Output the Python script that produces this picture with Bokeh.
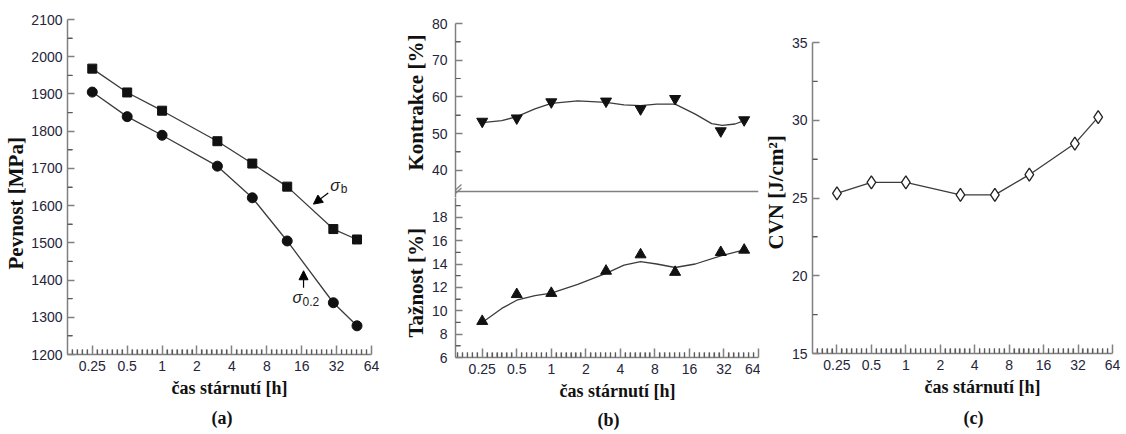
import math
from bokeh.plotting import figure
from bokeh.layouts import row, column
from bokeh.models import (FixedTicker, Arrow, NormalHead, Label, Title, Range1d, Span)
from bokeh.embed import file_html
from bokeh.resources import INLINE

# ---------------- data ----------------
t_hours = [0.25, 0.5, 1, 3, 6, 12, 30, 48]
sigma_b = [1968, 1904, 1855, 1773, 1713, 1651, 1537, 1509]
sigma_02 = [1905, 1839, 1789, 1706, 1621, 1505, 1339, 1277]
kontrakce = [53.3, 54.2, 58.6, 58.8, 56.7, 59.5, 50.7, 53.7]
taznost = [9.1, 11.4, 11.5, 13.4, 14.8, 13.3, 15.0, 15.2]
cvn = [25.3, 26.0, 26.0, 25.2, 25.2, 26.5, 28.5, 30.2]

# smoothed trend curves
kontrakce_fit_t = [0.25, 0.37, 0.5, 0.72, 1, 1.7, 3, 4.3, 6, 8.3, 12, 18, 25, 31, 40, 48]
kontrakce_fit = [53.0, 53.5, 54.6, 56.7, 58.2, 58.9, 58.5, 57.8, 57.6, 58.0, 58.0, 55.3, 52.7, 52.2, 52.6, 53.5]
taznost_fit_t = [0.25, 0.37, 0.5, 0.72, 1, 1.7, 3, 4.3, 6, 8.3, 12, 18, 30, 48]
taznost_fit = [9.0, 10.2, 10.9, 11.3, 11.5, 12.25, 13.2, 13.9, 14.2, 14.0, 13.7, 14.0, 14.7, 15.2]

x_ticks = [0.25, 0.5, 1, 2, 4, 8, 16, 32, 64]
x_tick_labels = ["0.25", "0.5", "1", "2", "4", "8", "16", "32", "64"]
ya_ticks = [1200, 1300, 1400, 1500, 1600, 1700, 1800, 1900, 2000, 2100]
ya_minor = [1250, 1350, 1450, 1550, 1650, 1750, 1850, 1950, 2050]
yb_top_ticks = [40, 50, 60, 70, 80]
yb_top_minor = [45, 55, 65, 75]
yb_bot_ticks = [6, 8, 10, 12, 14, 16, 18]
yb_bot_minor = [7, 9, 11, 13, 15, 17, 19]
yc_ticks = [15, 20, 25, 30, 35]
yc_minor = [17.5, 22.5, 27.5, 32.5]

x_minor = [2 ** (k + i / 7) for k in range(-3, 6) for i in range(1, 7)]
x_labels = {float(k): v for k, v in zip(x_ticks, x_tick_labels)}

AX = "#808080"
MINOR = "#5a5a5a"
TICK_TXT = "#25253a"
LINE = "#3c3c3c"
MK = "#111111"
TITLE = "#111111"
XLAB = "čas stárnutí [h]"


def style(p):
    p.outline_line_color = None
    p.grid.visible = False
    p.background_fill_color = "white"
    p.border_fill_color = "white"
    p.frame_align = False
    for ax in p.axis:
        ax.axis_line_color = AX
        ax.axis_line_width = 1.5
        ax.major_tick_line_color = AX
        ax.major_tick_line_width = 1.5
        ax.minor_tick_line_color = MINOR
        ax.minor_tick_line_width = 1.2
        ax.major_tick_in = 7
        ax.major_tick_out = 0
        ax.minor_tick_in = 5
        ax.minor_tick_out = 0
        ax.major_label_text_font = "Liberation Sans"
        ax.major_label_text_font_size = "14px"
        ax.major_label_text_color = TICK_TXT


def minor_marks(p, xmin, ystart, yminor):
    xs = [v for v in x_minor if v > xmin]
    # short inward ticks on the bottom axis and the left axis
    p.scatter(xs, [ystart] * len(xs), marker="dash", angle=math.pi / 2, size=10,
              line_color=MINOR, line_width=1.2)
    p.scatter([xmin] * len(yminor), yminor, marker="dash", size=10,
              line_color=MINOR, line_width=1.2)


def setup_x(p):
    ax = p.xaxis[0]
    ax.ticker = FixedTicker(ticks=x_ticks, minor_ticks=x_minor)
    ax.major_label_overrides = x_labels
    ax.major_tick_in = 9
    ax.major_label_standoff = 6


def ttl(p, txt, side, size, offset=0, standoff=0):
    p.add_layout(Title(text=txt, align="left", offset=offset, standoff=standoff,
                       text_font="Liberation Serif", text_font_style="bold",
                       text_font_size=size, text_color=TITLE), side)


# ---------------- panel (a) ----------------
xa_min = 2 ** -2.71
pa = figure(width=400, height=434, x_axis_type="log",
            x_range=Range1d(xa_min, 64), y_range=Range1d(1200, 2100),
            output_backend="svg", toolbar_location=None,
            min_border_left=65, min_border_right=29, min_border_top=19, min_border_bottom=79)
style(pa)
setup_x(pa)
pa.yaxis[0].ticker = FixedTicker(ticks=ya_ticks, minor_ticks=ya_minor)
pa.yaxis[0].major_label_standoff = 5
minor_marks(pa, xa_min, 1200, ya_minor)
ttl(pa, "Pevnost [MPa]", "left", "21px", offset=85, standoff=2)
ttl(pa, XLAB, "below", "18px", offset=104, standoff=4)
ttl(pa, "(a)", "below", "18px", offset=144, standoff=13)

pa.line(t_hours, sigma_b, line_color=LINE, line_width=1.3)
pa.scatter(t_hours, sigma_b, marker="square", size=9, color=MK)
pa.line(t_hours, sigma_02, line_color=LINE, line_width=1.3)
pa.scatter(t_hours, sigma_02, marker="circle", size=10, color=MK)

pa.add_layout(Label(x=31.1, y=1655, text="σ", text_font="Liberation Sans", text_font_style="italic",
                    text_font_size="16px", text_align="center", text_baseline="middle", text_color="#222"))
pa.add_layout(Label(x=37.2, y=1644, text="b", text_font="Liberation Sans",
                    text_font_size="12px", text_align="center", text_baseline="middle", text_color="#222"))
pa.add_layout(Arrow(end=NormalHead(size=9, fill_color="black", line_color="black"),
                    x_start=27.1, y_start=1634, x_end=20.2, y_end=1604,
                    line_color="black", line_width=1.2))
pa.add_layout(Label(x=14.7, y=1352, text="σ", text_font="Liberation Sans", text_font_style="italic",
                    text_font_size="16px", text_align="center", text_baseline="middle", text_color="#222"))
pa.add_layout(Label(x=19.2, y=1343, text="0.2", text_font="Liberation Sans",
                    text_font_size="12px", text_align="center", text_baseline="middle", text_color="#222"))
pa.add_layout(Arrow(end=NormalHead(size=9, fill_color="black", line_color="black"),
                    x_start=16.6, y_start=1379, x_end=16.6, y_end=1425,
                    line_color="black", line_width=1.2))

# ---------------- panel (b) ----------------
xb_min = 2 ** -2.774
pbt = figure(width=360, height=197, x_axis_type="log",
             x_range=Range1d(xb_min, 64), y_range=Range1d(32.56, 80),
             x_axis_location=None,
             output_backend="svg", toolbar_location=None,
             min_border_left=53, min_border_right=2, min_border_top=23, min_border_bottom=0)
style(pbt)
pbt.yaxis[0].ticker = FixedTicker(ticks=yb_top_ticks, minor_ticks=yb_top_minor)
pbt.yaxis[0].major_label_standoff = 8
pbt.scatter([xb_min] * len(yb_top_minor), yb_top_minor, marker="dash", size=10,
            line_color=MINOR, line_width=1.2)
ttl(pbt, "Kontrakce [%]", "left", "21px", offset=27, standoff=2)
pbt.add_layout(Span(location=34.2, dimension="width", line_color=AX, line_width=1.5))
for (y0, y1) in [(33.38, 36.10), (32.42, 35.15)]:
    pbt.add_layout(Arrow(end=None, x_start=xb_min * 2 ** (-5 / 34.9), y_start=y0,
                         x_end=xb_min * 2 ** (6 / 34.9), y_end=y1,
                         line_color=AX, line_width=1.3))
pbt.line(kontrakce_fit_t, kontrakce_fit, line_color=LINE, line_width=1.3)
pbt.scatter(t_hours, kontrakce, marker="inverted_triangle", size=11, color=MK)

pbb = figure(width=360, height=237, x_axis_type="log",
             x_range=Range1d(xb_min, 64), y_range=Range1d(6, 19.69),
             output_backend="svg", toolbar_location=None,
             min_border_left=53, min_border_right=2, min_border_top=0, min_border_bottom=76)
style(pbb)
setup_x(pbb)
pbb.yaxis[0].ticker = FixedTicker(ticks=yb_bot_ticks, minor_ticks=yb_bot_minor)
pbb.yaxis[0].major_label_standoff = 8
minor_marks(pbb, xb_min, 6, yb_bot_minor)
ttl(pbb, "Tažnost [%]", "left", "21px", offset=20, standoff=2)
ttl(pbb, XLAB, "below", "18px", offset=104, standoff=4)
ttl(pbb, "(b)", "below", "18px", offset=142, standoff=10)
pbb.line(taznost_fit_t, taznost_fit, line_color=LINE, line_width=1.3)
pbb.scatter(t_hours, taznost, marker="triangle", size=11, color=MK)

# ---------------- panel (c) ----------------
xc_min = 2 ** -2.71
pc = figure(width=360, height=434, x_axis_type="log",
            x_range=Range1d(xc_min, 64), y_range=Range1d(15, 35),
            output_backend="svg", toolbar_location=None,
            min_border_left=45, min_border_right=8, min_border_top=42, min_border_bottom=80)
style(pc)
setup_x(pc)
pc.yaxis[0].ticker = FixedTicker(ticks=yc_ticks, minor_ticks=yc_minor)
pc.yaxis[0].major_label_standoff = 5
minor_marks(pc, xc_min, 15, yc_minor)
ttl(pc, "CVN [J/cm²]", "left", "21px", offset=104, standoff=2)
ttl(pc, XLAB, "below", "18px", offset=112, standoff=4)
ttl(pc, "(c)", "below", "18px", offset=151, standoff=14)
pc.line(t_hours, cvn, line_color=LINE, line_width=1.3)
pc.scatter(t_hours, cvn, marker="diamond", size=13, fill_color="white", line_color="#222", line_width=1.3)

layout = row(pa, column(pbt, pbb), pc)

with open("out.html", "w") as f:
    f.write(file_html(layout, INLINE))
